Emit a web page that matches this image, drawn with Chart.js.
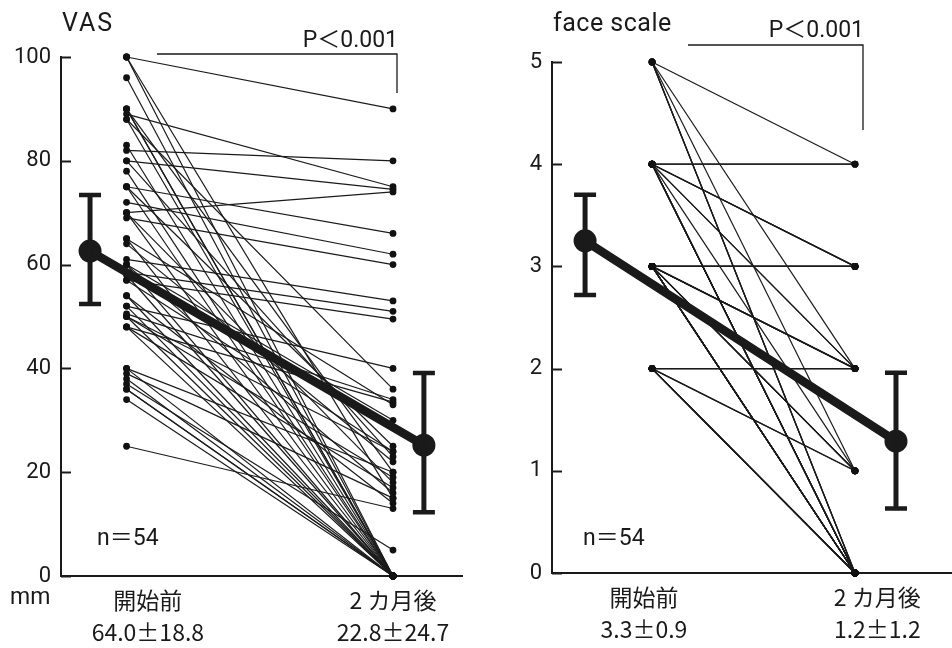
<!DOCTYPE html>
<html>
<head>
<meta charset="utf-8">
<script src="https://cdn.jsdelivr.net/npm/chart.js@4.4.1/dist/chart.umd.min.js"></script>
<style>
html, body { margin: 0; padding: 0; background: #fff; }
#wrap { position: relative; width: 952px; height: 648px; }
#c1 { position: absolute; left: 0; top: 0; }
#c2 { position: absolute; left: 480px; top: 0; }
</style>
</head>
<body>
<div id="wrap">
  <canvas id="c1" width="480" height="648"></canvas>
  <canvas id="c2" width="472" height="648"></canvas>
</div>
<script>
// group names under the x axis
var groupNames = ["開始前", "2 カ月後"];

// VAS (mm), one entry per patient, before / after paired by index
var vasBefore = [100, 100, 100, 96, 90, 90, 90, 89, 88, 88, 83, 82, 80, 80, 78, 75, 75, 75,
  72, 70, 70, 70, 69, 65, 65, 64, 61, 60, 60, 60, 58.5, 58, 57, 57, 54, 54, 52, 52,
  50.5, 50, 50, 50, 48, 48, 48, 40, 40, 39, 38, 37, 36, 36, 34, 25];
var vasAfter = [90, 0, 15, 0, 0, 20, 0, 75, 36, 0, 0, 80, 74.5, 23, 0, 66, 0, 25,
  62, 74, 0, 18, 60, 0, 33, 22, 53, 0, 30, 16, 51, 0, 49.5, 24, 0, 14, 40, 0,
  34, 0, 19, 24, 33.5, 0, 17, 0, 20, 15, 0, 5, 0, 0, 0, 13];
var vasMean = [62.6, 25.2];
var vasLow = [52.4, 12.3];
var vasHigh = [73.4, 39.1];
var vasStats = ["64.0±18.8", "22.8±24.7"];
var vasTicks = [0, 20, 40, 60, 80, 100];

// face scale, one entry per patient
var faceBefore = [5, 5, 5, 5, 5, 5,
  4, 4, 4, 4, 4, 4, 4, 4, 4, 4, 4, 4, 4, 4, 4,
  3, 3, 3, 3, 3, 3, 3, 3, 3, 3, 3, 3, 3, 3, 3, 3, 3, 3, 3, 3, 3, 3,
  2, 2, 2, 2, 2, 2, 2, 2, 2, 2, 2];
var faceAfter = [4, 2, 1, 0, 0, 0,
  4, 4, 3, 3, 3, 2, 2, 1, 0, 0, 0, 0, 0, 0, 0,
  3, 3, 3, 3, 3, 2, 2, 2, 2, 1, 1, 1, 1, 0, 0, 0, 0, 0, 0, 0, 0, 0,
  2, 2, 2, 1, 1, 0, 0, 0, 0, 0, 0];
var faceMean = [3.25, 1.29];
var faceLow = [2.72, 0.63];
var faceHigh = [3.70, 1.96];
var faceStats = ["3.3±0.9", "1.2±1.2"];
var faceTicks = [0, 1, 2, 3, 4, 5];

var ink = "#1a1a1a";
var numFont = "Roboto, 'Noto Sans CJK JP', sans-serif";
var labFont = "'Noto Sans CJK JP', Roboto, sans-serif";

function buildPanel(canvasId, before, after, mean, low, high, stats, yTicks, lay) {
  var datasets = [];
  datasets.push({
    data: [{ x: lay.meanX[0], y: mean[0] }, { x: lay.meanX[1], y: mean[1] }],
    borderColor: ink,
    backgroundColor: ink,
    borderWidth: 8.5,
    pointRadius: 11.5,
    pointBorderWidth: 0,
    order: 0,
    clip: false
  });
  for (var i = 0; i < before.length; i++) {
    datasets.push({
      data: [{ x: 1, y: before[i] }, { x: 2, y: after[i] }],
      borderColor: ink,
      backgroundColor: "#111",
      borderWidth: 1.2,
      pointRadius: 3.4,
      pointBorderWidth: 0,
      order: 1,
      clip: false
    });
  }

  var decor = {
    id: "decor" + canvasId,
    afterDatasetsDraw: function(chart) {
      var ctx = chart.ctx;
      var xs = chart.scales.x, ys = chart.scales.y;
      var left = chart.chartArea.left;
      ctx.save();
      ctx.strokeStyle = ink;
      ctx.fillStyle = ink;

      // inward tick marks
      ctx.lineWidth = 2;
      ys.ticks.forEach(function(t) {
        var py = Math.round(ys.getPixelForValue(t.value)) + 0.5;
        ctx.beginPath();
        ctx.moveTo(left, py);
        ctx.lineTo(left + 10, py);
        ctx.stroke();
      });

      // mean ± SD bars
      for (var k = 0; k < 2; k++) {
        var px = xs.getPixelForValue(lay.meanX[k]);
        var pl = ys.getPixelForValue(low[k]);
        var ph = ys.getPixelForValue(high[k]);
        ctx.lineWidth = 5;
        ctx.beginPath();
        ctx.moveTo(px, pl);
        ctx.lineTo(px, ph);
        ctx.stroke();
        ctx.lineWidth = 4.5;
        ctx.beginPath();
        ctx.moveTo(px - 11, ph);
        ctx.lineTo(px + 11, ph);
        ctx.moveTo(px - 11, pl);
        ctx.lineTo(px + 11, pl);
        ctx.stroke();
      }

      // significance bracket
      ctx.lineWidth = 1.3;
      ctx.beginPath();
      ctx.moveTo(lay.bracket[0], lay.bracket[2]);
      ctx.lineTo(lay.bracket[1], lay.bracket[2]);
      ctx.lineTo(lay.bracket[1], lay.bracket[3]);
      ctx.stroke();

      ctx.font = "23px " + numFont;
      ctx.textAlign = "right";
      ctx.textBaseline = "alphabetic";
      ctx.fillText("P＜0.001", lay.bracket[1] + 1, lay.pY);

      ctx.textAlign = "left";
      ctx.fillText("n＝54", lay.nX, 545);

      ctx.font = "25px " + numFont;
      ctx.letterSpacing = lay.titleSpacing;
      ctx.fillText(lay.title, lay.titleX, 31);
      ctx.letterSpacing = "0px";

      if (lay.unit) {
        ctx.font = "23px " + numFont;
        ctx.fillText(lay.unit, 10, 604);
      }
      ctx.restore();
    }
  };

  return new Chart(document.getElementById(canvasId), {
    type: "line",
    data: { datasets: datasets },
    options: {
      responsive: false,
      animation: false,
      devicePixelRatio: 1,
      layout: { autoPadding: false, padding: { left: 0, top: lay.top, right: lay.right, bottom: 0 } },
      plugins: { legend: { display: false }, tooltip: { enabled: false } },
      scales: {
        x: {
          type: "linear",
          min: lay.xMin,
          max: lay.xMax,
          grid: { display: false, drawTicks: false },
          border: { display: true, color: ink, width: 2 },
          afterBuildTicks: function(s) {
            s.ticks = lay.labelX.map(function(v) { return { value: v }; });
          },
          afterFit: function(s) {
            s.height = lay.xHeight;
            s.paddingLeft = 0;
            s.paddingRight = 0;
          },
          ticks: {
            autoSkip: false,
            maxRotation: 0,
            color: ink,
            padding: 8,
            font: { family: labFont, size: 23, weight: 400, lineHeight: 1.4 },
            callback: function(v) {
              var k = lay.labelX.indexOf(v);
              return [groupNames[k], stats[k]];
            }
          }
        },
        y: {
          type: "linear",
          min: yTicks[0],
          max: yTicks[yTicks.length - 1],
          grid: { display: false, drawTicks: false },
          border: { display: true, color: ink, width: 2 },
          afterBuildTicks: function(s) {
            s.ticks = yTicks.map(function(v) { return { value: v }; });
          },
          afterFit: function(s) { s.width = lay.yWidth; },
          ticks: {
            color: ink,
            padding: 10,
            font: { family: numFont, size: 22 }
          }
        }
      }
    },
    plugins: [decor]
  });
}

buildPanel("c1", vasBefore, vasAfter, vasMean, vasLow, vasHigh, vasStats, vasTicks, {
  meanX: [0.863, 2.116],
  labelX: [1.08, 2.0],
  xMin: 0.754, xMax: 2.259,
  top: 57, right: 18, xHeight: 72, yWidth: 61,
  bracket: [157, 397, 54, 93], pY: 47,
  nX: 97,
  title: "VAS", titleX: 62, titleSpacing: "2px",
  unit: "mm"
});

buildPanel("c2", faceBefore, faceAfter, faceMean, faceLow, faceHigh, faceStats, faceTicks, {
  meanX: [0.670, 2.202],
  labelX: [0.96, 2.11],
  xMin: 0.507, xMax: 2.478,
  top: 62, right: 0, xHeight: 75, yWidth: 72,
  bracket: [208, 383, 45, 130], pY: 37,
  nX: 103,
  title: "face scale", titleX: 73, titleSpacing: "0.5px",
  unit: null
});
</script>
</body>
</html>
